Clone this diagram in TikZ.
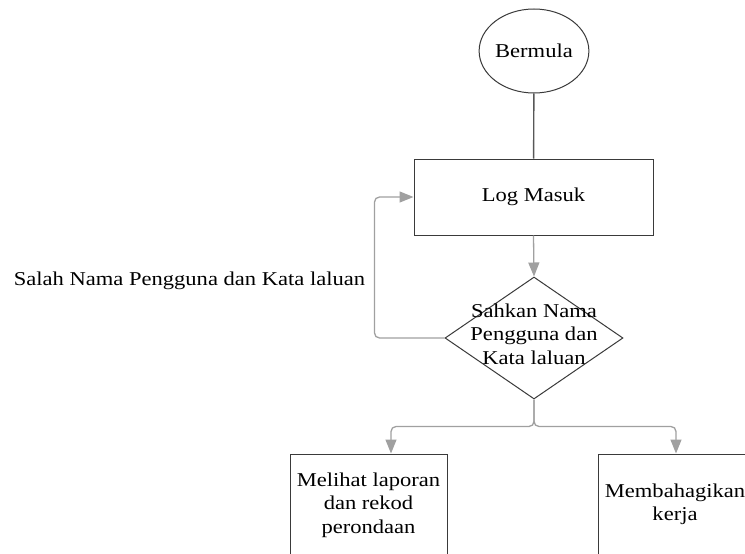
\documentclass[tikz,border=0pt]{standalone}
\usepackage{fontspec}
\setmainfont[FakeStretch=1.15]{Liberation Serif}
\usetikzlibrary{shapes.geometric, arrows.meta}
\definecolor{edgedark}{HTML}{3A3A3A}
\definecolor{flowgray}{HTML}{A0A0A0}
\begin{document}
\begin{tikzpicture}[x=1pt, y=-1pt, font=\fontsize{19.6}{23.3}\selectfont,
        box/.style={draw=edgedark, line width=1pt, fill=white, inner sep=0pt},
        txt/.style={align=center, inner sep=0pt},
        flow/.style={draw=flowgray, line width=1.3pt, rounded corners=5pt, -{Triangle[length=14pt, width=11pt]}}]
        \useasboundingbox (0,0) rectangle (745,554);
        \clip (0,0) rectangle (745,554);
        \node[box, ellipse, minimum width=97, minimum height=84] (start) at (534,51) {Bermula};
        \node[box, minimum width=239, minimum height=76] (login) at (533.5,197) {Log Masuk};
        \node[box, diamond, minimum width=178, minimum height=122] (check) at (534,338) {};
        \node[txt] (checktxt) at (534,334) {Sahkan Nama\\Pengguna dan\\Kata laluan};
        \node[box, minimum width=157, minimum height=104] (view) at (368.5,506) {};
        \node[txt] (viewtxt) at (368.5,505) {Melihat laporan\\dan rekod\\perondaan};
        \node[box, minimum width=156, minimum height=104] (share) at (676,506) {};
        \node[txt] (sharetxt) at (675,504) {Membahagikan\\kerja};
        \node[txt] (wrong) at (189.5,281) {Salah Nama Pengguna dan Kata laluan};
        \draw[edgedark!85, line width=1.4pt] (start)--(login);
        \draw[flow] (login.south)--(check.north);
        \draw[flow] (check.west)--++(-70,0) |- (login.west);
        \draw[flow] (check.south)--++(0,27) -| ([xshift=22.5pt]view.north);
        \draw[flow] (check.south)--++(0,27) -| (share.north);
    \end{tikzpicture}
\end{document}
